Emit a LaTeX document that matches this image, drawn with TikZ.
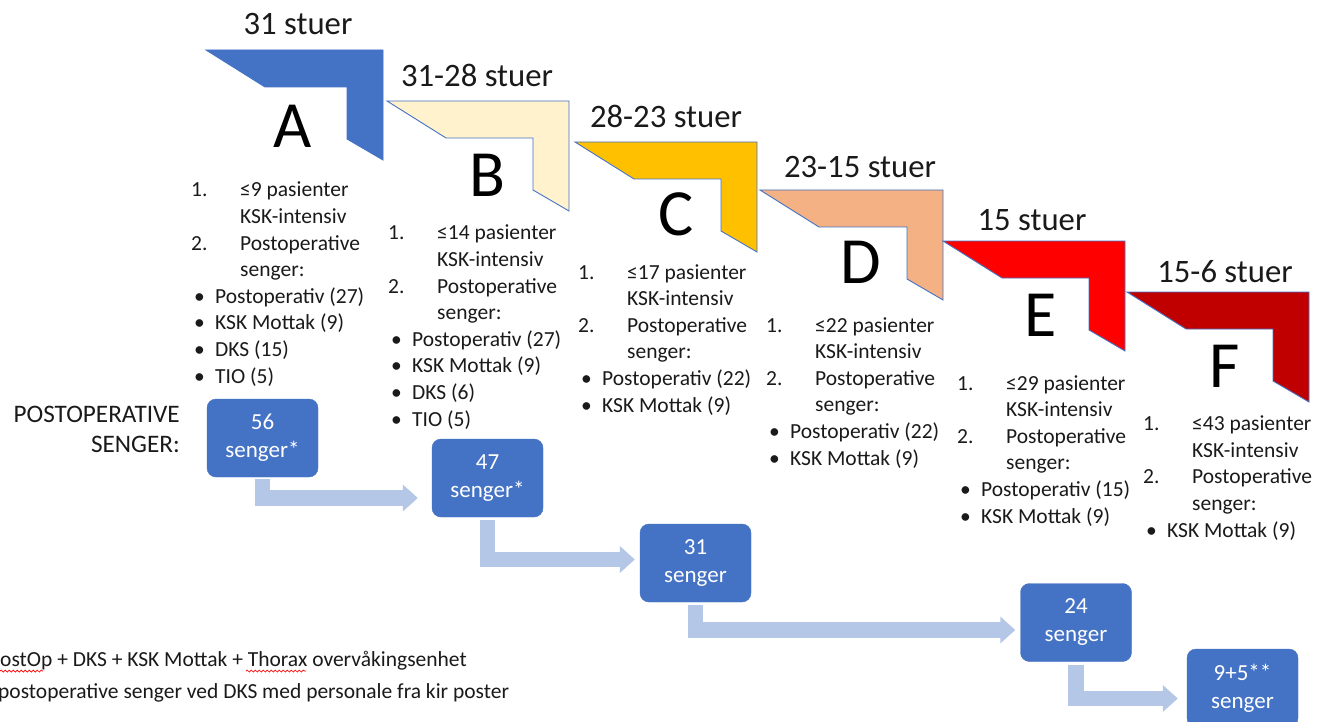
\documentclass[tikz,border=0pt]{standalone}
\usepackage{fontspec}
\setmainfont{Carlito}
\usetikzlibrary{arrows.meta, decorations.pathmorphing}

\definecolor{cA}{HTML}{4472C4}
\definecolor{cB}{HTML}{FFF2CC}
\definecolor{cC}{HTML}{FFC000}
\definecolor{cD}{HTML}{F4B183}
\definecolor{cE}{HTML}{FF0000}
\definecolor{cF}{HTML}{C00000}
\definecolor{kant}{HTML}{4472C4}
\definecolor{pilfarge}{HTML}{B4C7E7}
\definecolor{tekst}{HTML}{1A1A1A}

\tikzstyle{chev} = [draw=kant, line width=0.9pt, line join=miter]
\tikzstyle{stuer} = [font=\fontsize{32.7}{36}\selectfont, text=tekst, anchor=base, inner sep=0pt]
\tikzstyle{niva} = [font=\fontsize{66}{70}\selectfont, anchor=base, inner sep=0pt]
\tikzstyle{liste} = [font=\fontsize{21.5}{26.6}\selectfont, text=tekst, align=left, anchor=base west, inner sep=0pt]
\tikzstyle{seng} = [rectangle, rounded corners=9pt, fill=cA, draw=cA, text=white, minimum width=111pt, minimum height=78pt, font=\fontsize{23}{28}\selectfont, align=center, inner sep=0pt]
\tikzstyle{pil} = [line width=15.5pt, draw=pilfarge, line join=miter, -{Triangle[length=15pt,width=26pt]}]
\tikzstyle{fotnote} = [font=\fontsize{21.5}{26}\selectfont, text=tekst, anchor=base west, inner sep=0pt]

\newcommand{\nr}[2]{\makebox[49pt][l]{#1}#2}
\newcommand{\inn}{\hspace*{49pt}}
\newcommand{\blt}[1]{\hspace*{3pt}\makebox[21pt][l]{\textbullet}#1}

\begin{document}
\begin{tikzpicture}[x=1pt, y=-1pt]
		\clip (0,0) rectangle (1317,722);
		\fill[white] (0,0) rectangle (1317,722);
		% trappen
		\foreach \x/\y/\w/\c in {206/50/177/cA, 387/101/182/cB, 575/142/182/cC, 760/190/183/cD, 943/241/182/cE, 1127/292/182/cF}
			\draw[chev, fill=\c] (\x,\y) -- ++(\w,0) -- ++(0,110) -- ++(-36,-21) -- ++(0,-52) -- (\x+59,\y+37) -- cycle;
		\node (sA) [stuer] at (298,35) {31 stuer};
		\node (sB) [stuer] at (477,87) {31-28 stuer};
		\node (sC) [stuer] at (666,128) {28-23 stuer};
		\node (sD) [stuer] at (860,178) {23-15 stuer};
		\node (sE) [stuer] at (1032,230) {15 stuer};
		\node (sF) [stuer] at (1225,282) {15-6 stuer};
		\node (nA) [niva] at (293,148) {A};
		\node (nB) [niva] at (487,197) {B};
		\node (nC) [niva] at (676,236) {C};
		\node (nD) [niva] at (861,283) {D};
		\node (nE) [niva] at (1041,336) {E};
		\node (nF) [niva] at (1225,387) {F};
		% lister (base = siste linje)
		\node (lA) [liste] at (191,383) {\nr{1.}{≤9 pasienter}\\ \inn KSK-intensiv\\ \nr{2.}{Postoperative}\\ \inn senger:\\ \blt{Postoperativ (27)}\\ \blt{KSK Mottak (9)}\\ \blt{DKS (15)}\\ \blt{TIO (5)}};
		\node (lB) [liste] at (388,426) {\nr{1.}{≤14 pasienter}\\ \inn KSK-intensiv\\ \nr{2.}{Postoperative}\\ \inn senger:\\ \blt{Postoperativ (27)}\\ \blt{KSK Mottak (9)}\\ \blt{DKS (6)}\\ \blt{TIO (5)}};
		\node (lC) [liste] at (578,412) {\nr{1.}{≤17 pasienter}\\ \inn KSK-intensiv\\ \nr{2.}{Postoperative}\\ \inn senger:\\ \blt{Postoperativ (22)}\\ \blt{KSK Mottak (9)}};
		\node (lD) [liste] at (766,465) {\nr{1.}{≤22 pasienter}\\ \inn KSK-intensiv\\ \nr{2.}{Postoperative}\\ \inn senger:\\ \blt{Postoperativ (22)}\\ \blt{KSK Mottak (9)}};
		\node (lE) [liste] at (957,523) {\nr{1.}{≤29 pasienter}\\ \inn KSK-intensiv\\ \nr{2.}{Postoperative}\\ \inn senger:\\ \blt{Postoperativ (15)}\\ \blt{KSK Mottak (9)}};
		\node (lF) [liste] at (1143,537) {\nr{1.}{≤43 pasienter}\\ \inn KSK-intensiv\\ \nr{2.}{Postoperative}\\ \inn senger:\\ \blt{KSK Mottak (9)}};
		% senger
		\node (post) [font=\fontsize{25.2}{30}\selectfont, text=tekst, align=right, anchor=base east, inner sep=0pt] at (180,452) {POSTOPERATIVE\\ SENGER:};
		\node (b56) [seng] at (262.5,438) {56\\ senger*};
		\node (b47) [seng] at (487.5,478) {47\\ senger*};
		\node (b31) [seng] at (695.5,563) {31\\ senger};
		\node (b24) [seng] at (1076,622.5) {24\\ senger};
		\node (b9) [seng] at (1242.5,688) {9+5**\\ senger};
		\draw [pil] ([yshift=-2pt]b56.south) |- ([xshift=-14pt,yshift=-20pt]b47.west);
		\draw [pil] ([yshift=-3pt]b47.south) |- ([xshift=-5pt,yshift=3.5pt]b31.west);
		\draw [pil] ([yshift=-3pt]b31.south) |- ([xshift=-5pt,yshift=-7.5pt]b24.west);
		\draw [pil] ([yshift=-3pt]b24.south) |- ([xshift=-9pt,yshift=-10.5pt]b9.west);
		% fotnoter
		\node (f1) [fotnote] at (0,666) {ostOp + DKS + KSK Mottak + Thorax overvåkingsenhet};
		\node (f2) [fotnote] at (-2,698) {postoperative senger ved DKS med personale fra kir poster};
		\draw[red, line width=0.7pt, decorate, decoration={snake, amplitude=1pt, segment length=4pt}] (0,671) -- (43,671);
		\draw[red, line width=0.7pt, decorate, decoration={snake, amplitude=1pt, segment length=4pt}] (246,671) -- (306,671);
	\end{tikzpicture}
\end{document}
